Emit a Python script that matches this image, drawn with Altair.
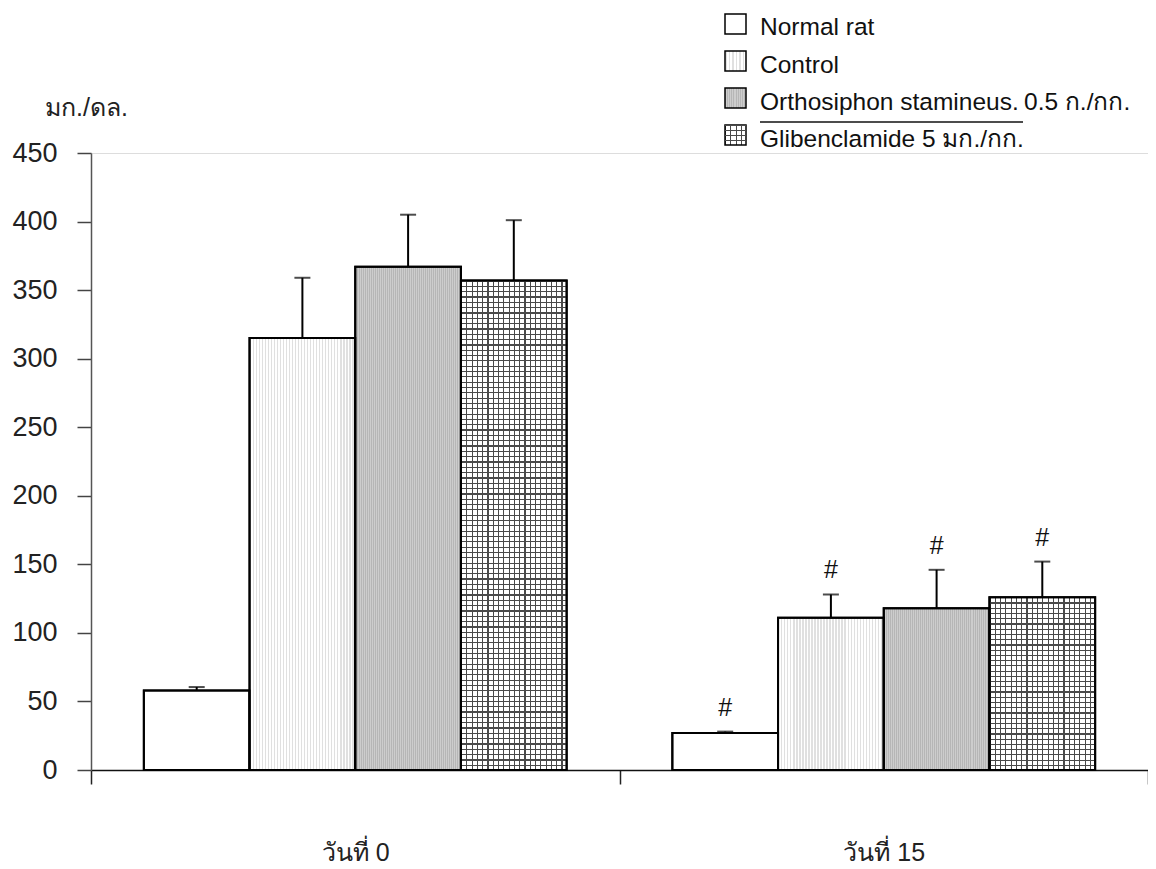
import altair as alt
import pandas as pd

days = ["วันที่ 0", "วันที่ 15"]
groups = ["Normal rat", "Control", "Orthosiphon stamineus. 0.5 ก./กก.", "Glibenclamide 5 มก./กก."]
mean_day0 = [58, 315, 367, 357]
upper_day0 = [60.5, 359, 405, 401]
mean_day15 = [27, 111, 118, 126]
upper_day15 = [28, 128, 146, 152]
sig_day15 = ["#", "#", "#", "#"]

rows = []
for g, m, u in zip(groups, mean_day0, upper_day0):
    rows.append({"day": days[0], "group": g, "mean": m, "upper": u, "sig": ""})
for g, m, u, s in zip(groups, mean_day15, upper_day15, sig_day15):
    rows.append({"day": days[1], "group": g, "mean": m, "upper": u, "sig": s})
df = pd.DataFrame(rows)

FONT = "Liberation Sans, Arial, Noto Sans, sans-serif"
W, H = 1057, 617
YMAX = 450


def stripes(n, line, bg, lw=0.34, vertical=True):
    stops = []
    for i in range(n):
        a = i / n
        b = (i + lw) / n
        c = (i + 1) / n
        stops += [alt.GradientStop(color=line, offset=a), alt.GradientStop(color=line, offset=b),
                  alt.GradientStop(color=bg, offset=b), alt.GradientStop(color=bg, offset=c)]
    if vertical:
        return alt.LinearGradient(gradient="linear", stops=stops, x1=0, x2=1, y1=0, y2=0)
    return alt.LinearGradient(gradient="linear", stops=stops, x1=0, x2=0, y1=0, y2=1)


ctrl_fill = stripes(35, "#e0e0e0", "#ffffff", 0.45)
orth_fill = stripes(53, "#b6b6b6", "#cdcdcd", 0.5)
glib_fill = stripes(20, "#4a4a4a", "#ffffff", 0.22)

x_enc = alt.X("day:N", scale=alt.Scale(domain=days, paddingInner=0, paddingOuter=0),
              axis=alt.Axis(title=None, labelAngle=0, tickBand="extent", tickSize=14, tickColor="#222",
                            domainColor="#111", domainWidth=1.5, tickWidth=1.5, labelFontSize=25,
                            labelFont=FONT, labelColor="#222", labelPadding=56, labelBaseline="top"))
xo_enc = alt.XOffset("group:N", scale=alt.Scale(domain=groups, paddingInner=0, paddingOuter=0.5))
y_scale = alt.Scale(domain=[0, YMAX], nice=False)
y_enc = alt.Y("mean:Q", scale=y_scale,
              axis=alt.Axis(title="มก./ดล.", titleAngle=0, titleX=-5, titleY=-46, titleAlign="center",
                            titleBaseline="middle", titleFontSize=25, titleFontWeight="normal",
                            titleFont=FONT, titleColor="#222",
                            values=list(range(0, 451, 50)), grid=False, tickSize=14, tickColor="#444",
                            tickWidth=1.5, domainColor="#555", domainWidth=1.5, labelFontSize=27,
                            labelFont=FONT, labelColor="#222", labelPadding=20))

base = alt.Chart(df)

bar_normal = base.transform_filter(alt.datum.group == groups[0]).mark_bar(
    fill="white", stroke="black", strokeWidth=2).encode(x=x_enc, xOffset=xo_enc, y=y_enc)
bar_ctrl = base.transform_filter(alt.datum.group == groups[1]).mark_bar(
    fill=ctrl_fill, stroke="black", strokeWidth=2).encode(x=x_enc, xOffset=xo_enc, y=y_enc)
bar_orth = base.transform_filter(alt.datum.group == groups[2]).mark_bar(
    fill=orth_fill, stroke="black", strokeWidth=2).encode(x=x_enc, xOffset=xo_enc, y=y_enc)
bar_glib = base.transform_filter(alt.datum.group == groups[3]).mark_bar(
    fill=glib_fill, stroke="black", strokeWidth=2).encode(x=x_enc, xOffset=xo_enc, y=y_enc)

layers = [bar_normal, bar_ctrl, bar_orth, bar_glib]

# horizontal grid lines for the Glibenclamide bars (one overlay per bar, period ~5 px)
for d, m in zip(days, [mean_day0[3], mean_day15[3]]):
    n = max(1, round(m * H / YMAX / 5.3))
    hfill = stripes(n, "#4a4a4a", "rgba(255,255,255,0)", 0.22, vertical=False)
    layers.append(base.transform_filter((alt.datum.group == groups[3]) & (alt.datum.day == d)).mark_bar(
        fill=hfill).encode(x=x_enc, xOffset=xo_enc, y=y_enc))

outline = base.mark_bar(fillOpacity=0, stroke="black", strokeWidth=2).encode(x=x_enc, xOffset=xo_enc, y=y_enc)
err_rule = base.mark_rule(color="black", strokeWidth=2).encode(
    x=x_enc, xOffset=xo_enc, y=alt.Y("mean:Q", scale=y_scale), y2="upper:Q")
err_cap = base.mark_tick(color="black", thickness=2, size=16, orient="horizontal").encode(
    x=x_enc, xOffset=xo_enc, y=alt.Y("upper:Q", scale=y_scale))
sig = base.mark_text(fontSize=25, font=FONT, color="#111", dy=-24, baseline="middle").encode(
    x=x_enc, xOffset=xo_enc, y=alt.Y("upper:Q", scale=y_scale), text="sig:N")

layers += [outline, err_rule, err_cap, sig]

# legend (drawn by hand so the swatches can carry the bar patterns)
one = pd.DataFrame({"k": [0]})
sw_x0, sw_x1 = 634, 655
sw_centers = [-129, -92, -55, -18]
sw_fills = ["white", stripes(6, "#e0e0e0", "#ffffff", 0.45), stripes(10, "#b6b6b6", "#cdcdcd", 0.5),
            stripes(4, "#4a4a4a", "#ffffff", 0.22)]
for c, f in zip(sw_centers, sw_fills):
    layers.append(alt.Chart(one).mark_rect(fill=f, stroke="black", strokeWidth=1.5).encode(
        x=alt.value(sw_x0), x2=alt.value(sw_x1), y=alt.value(c - 10), y2=alt.value(c + 10)))
layers.append(alt.Chart(one).mark_rect(fill=stripes(4, "#4a4a4a", "rgba(255,255,255,0)", 0.22, vertical=False)).encode(
    x=alt.value(sw_x0), x2=alt.value(sw_x1), y=alt.value(sw_centers[3] - 10), y2=alt.value(sw_centers[3] + 10)))

legend_texts = ["Normal rat", "Control", "Orthosiphon stamineus.", "Glibenclamide 5 มก./กก."]
txt_y = [-125, -87, -50, -13]
for t, yy in zip(legend_texts, txt_y):
    layers.append(alt.Chart(one).mark_text(text=t, fontSize=24.5, font=FONT, color="#111", align="left",
                                           baseline="middle").encode(x=alt.value(669), y=alt.value(yy)))
layers.append(alt.Chart(one).mark_text(text="0.5 ก./กก.", fontSize=24.5, font=FONT, color="#111", align="left",
                                       baseline="middle").encode(x=alt.value(933), y=alt.value(txt_y[2])))
layers.append(alt.Chart(one).mark_rule(color="#111", strokeWidth=1.5).encode(
    x=alt.value(669), x2=alt.value(932), y=alt.value(-31)))

chart = alt.layer(*layers).properties(
    width=W, height=H, autosize="none",
    padding={"left": 83, "top": 145, "right": 0, "bottom": 97},
).configure_view(stroke=None).configure(background="white")

chart.save("out.html", embed_options={"renderer": "svg", "actions": False})
